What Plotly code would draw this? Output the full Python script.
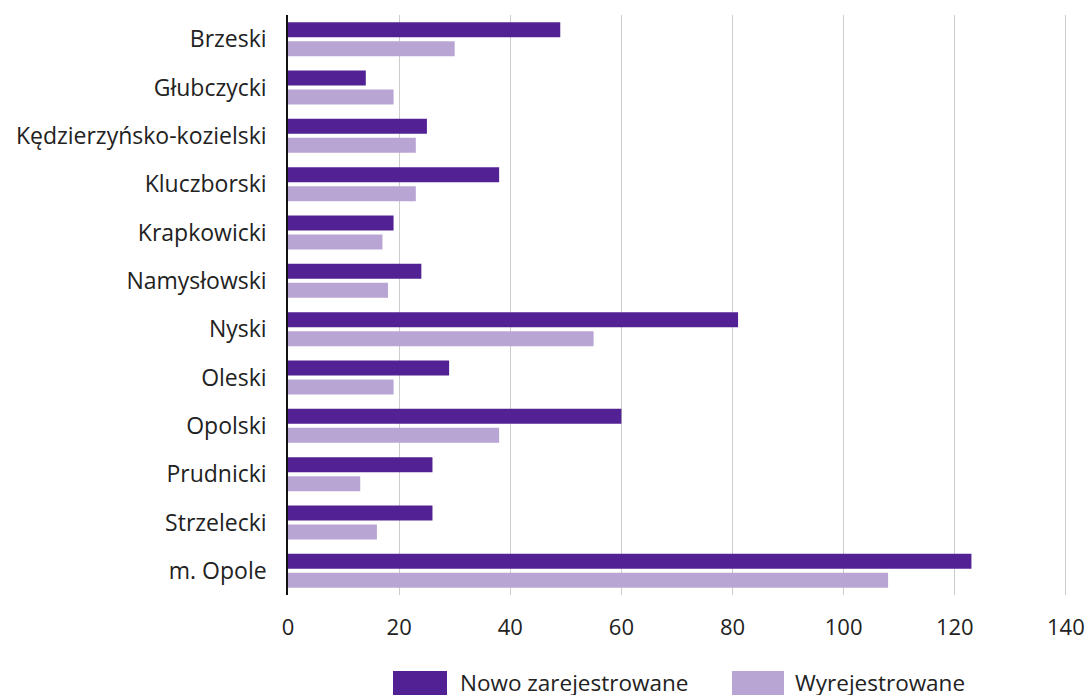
import plotly.graph_objects as go

categories = ["Brzeski", "Głubczycki", "Kędzierzyńsko-kozielski", "Kluczborski",
              "Krapkowicki", "Namysłowski", "Nyski", "Oleski", "Opolski",
              "Prudnicki", "Strzelecki", "m. Opole"]
nowo = [49, 14, 25, 38, 19, 24, 81, 29, 60, 26, 26, 123]
wyrej = [30, 19, 23, 23, 17, 18, 55, 19, 38, 13, 16, 108]
series_names = ["Nowo zarejestrowane", "Wyrejestrowane"]
tick_vals = [0, 20, 40, 60, 80, 100, 120, 140]

DARK = "#522294"
LIGHT = "#b9a5d4"
FONT = "Open Sans"
TXT = "#222222"

W, H = 1086, 695
L, R, T, B = 288, 19, 15, 100
PW, PH = W - L - R, H - T - B


def px(x):
    return (x - L) / PW


def py(y):
    return (T + PH - y) / PH


fig = go.Figure()
fig.add_trace(go.Bar(y=categories, x=nowo, orientation="h", name=series_names[0],
                     marker=dict(color=DARK, line=dict(width=0)), showlegend=False))
fig.add_trace(go.Bar(y=categories, x=wyrej, orientation="h", name=series_names[1],
                     marker=dict(color=LIGHT, line=dict(width=0)), showlegend=False))

fig.update_layout(
    width=W, height=H,
    margin=dict(l=L, r=R, t=T, b=B),
    paper_bgcolor="white", plot_bgcolor="white",
    barmode="group", bargap=0.215, bargroupgap=0.21,
    font=dict(family=FONT, size=20, color=TXT),
    xaxis=dict(range=[0, 140.2], tickvals=tick_vals, showgrid=True, automargin=False,
               gridcolor="#cccccc", gridwidth=1, zeroline=False, showline=False,
               ticks="", ticklabelstandoff=17, ticklabeloverflow="allow",
               tickfont=dict(size=22, color=TXT)),
    yaxis=dict(autorange="reversed", showline=True, linecolor="#111111", linewidth=1.5,
               ticks="", ticklabelstandoff=15, showgrid=False, automargin=False,
               tickfont=dict(size=23, color=TXT)),
)

# custom legend (page pixel positions)
swatches = [(393, 447, DARK, 458, series_names[0]), (732, 784, LIGHT, 793, series_names[1])]
for x0, x1, col, tx, label in swatches:
    fig.add_shape(type="rect", xref="paper", yref="paper",
                  x0=px(x0), x1=px(x1), y0=py(700), y1=py(671),
                  fillcolor=col, line=dict(width=0))
    fig.add_annotation(xref="paper", yref="paper", x=px(tx), y=py(682),
                       text=label, showarrow=False, xanchor="left", yanchor="middle",
                       font=dict(family=FONT, size=22.5, color=TXT))

fig.write_html("out.html", config={"displayModeBar": False},
               post_script="document.body.style.margin='0';")
